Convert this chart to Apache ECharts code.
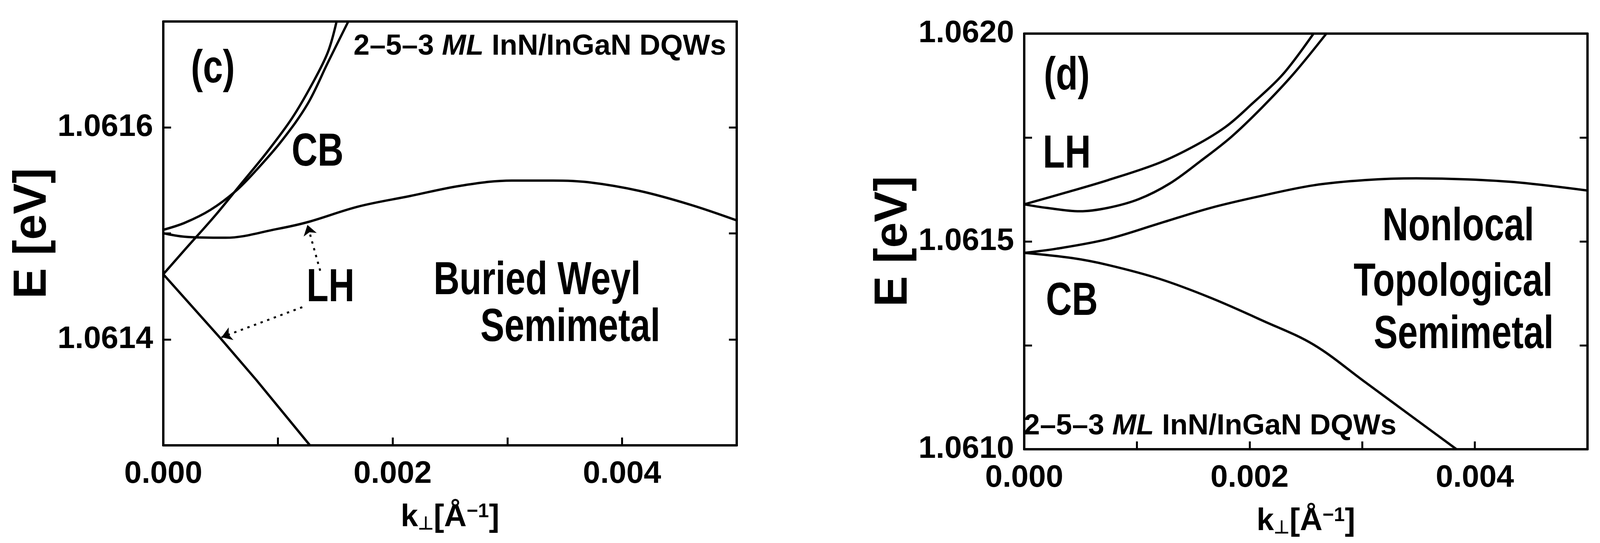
<!DOCTYPE html>
<html>
<head>
<meta charset="utf-8">
<script src="https://cdn.jsdelivr.net/npm/echarts@6/dist/echarts.min.js"></script>
<style>
  html, body { margin: 0; padding: 0; background: #fff; }
  #main { width: 4106px; height: 1390px; }
</style>
</head>
<body>
<div id="main"></div>
<script>
// panel (c): buried Weyl semimetal
const cB1 = [[0, 1.0614615], [0.000187, 1.0614845], [0.000455, 1.0615172], [0.000677, 1.0615466], [0.0009, 1.0615761], [0.001123, 1.0616088], [0.001301, 1.0616416], [0.001435, 1.061671], [0.001511, 1.0617]]
const cB2 = [[0, 1.0615034], [0.000187, 1.06151], [0.00041, 1.0615221], [0.000633, 1.0615401], [0.000811, 1.0615597], [0.001034, 1.0615876], [0.001257, 1.0616219], [0.001435, 1.0616612], [0.001613, 1.0617]]
const cLH = [[0, 1.0615002], [0.000187, 1.0614969], [0.000544, 1.0614959], [0.000989, 1.0615041], [0.001257, 1.0615106], [0.001702, 1.0615254], [0.002148, 1.0615352], [0.002594, 1.061545], [0.003039, 1.0615499], [0.003396, 1.0615499], [0.003708, 1.0615483], [0.004153, 1.0615401], [0.004599, 1.061527], [0.005, 1.0615123]]
const cLow = [[0, 1.0614615], [0.000499, 1.061401], [0.000811, 1.0613617], [0.001279, 1.0613]]
const cArrows = [
  [[0.001212, 1.0614304], [0.000508, 1.061402]],
  [[0.001368, 1.0614648], [0.001257, 1.061508]],
]

// panel (d): nonlocal topological semimetal
const dLH1 = [[0, 1.0615892], [0.000379, 1.0616183], [0.000744, 1.0616475], [0.0012, 1.0616892], [0.001519, 1.0617308], [0.001793, 1.0617767], [0.002021, 1.0618308], [0.002295, 1.0619017], [0.002568, 1.062]]
const dLH2 = [[0, 1.0615892], [0.000196, 1.0615808], [0.000493, 1.0615725], [0.000744, 1.0615808], [0.001017, 1.0616017], [0.001291, 1.0616392], [0.001565, 1.0616933], [0.001839, 1.0617517], [0.002112, 1.0618225], [0.002386, 1.0619017], [0.002682, 1.062]]
const dCB1 = [[0, 1.0614725], [0.000287, 1.0614825], [0.000744, 1.0615058], [0.0012, 1.0615433], [0.001656, 1.0615808], [0.002112, 1.06161], [0.002568, 1.061635], [0.003025, 1.0616475], [0.003481, 1.0616517], [0.003937, 1.0616492], [0.004393, 1.0616417], [0.005, 1.0616225]]
const dCB2 = [[0, 1.0614725], [0.000424, 1.06146], [0.000744, 1.0614433], [0.0012, 1.06141], [0.001656, 1.0613642], [0.002112, 1.06131], [0.002568, 1.0612517], [0.003025, 1.0611617], [0.003481, 1.0610708], [0.003837, 1.061]]

const X_TICKS = ['0.000', '0.002', '0.004']
const C_Y_TICKS = ['1.0614', '1.0616']
const D_Y_TICKS = ['1.0610', '1.0615', '1.0620']

const FONT = '"Liberation Sans", Arial, sans-serif'

const chart = echarts.init(document.getElementById('main'))

function line(data, xi, yi, extra) {
  return Object.assign({
    type: 'line', xAxisIndex: xi, yAxisIndex: yi, data, symbol: 'none', smooth: 0.35,
    lineStyle: { color: '#000', width: 6 }, silent: true, animation: false,
  }, extra || {})
}

const axisLine = { show: true, onZero: false, lineStyle: { color: '#000', width: 6 } }
const tick = { show: true, inside: true, length: 20, lineStyle: { width: 5, color: '#000' } }

function xAxes(gi) {
  const base = {
    type: 'value', gridIndex: gi, min: 0, max: 0.005, interval: 0.001,
    axisLine, splitLine: { show: false },
  }
  return [
    Object.assign({}, base, {
      position: 'bottom',
      axisTick: tick,
      axisLabel: {
        margin: 34, fontSize: 80, fontWeight: 'bold', color: '#000', fontFamily: FONT,
        formatter: v => X_TICKS.find(t => Math.abs(parseFloat(t) - v) < 1e-7) || '',
      },
      name: '{k|k}{s|⊥}{k|[Å}{u|−1}{k|]}', nameLocation: 'middle', nameGap: 145,
      nameTextStyle: {
        rich: {
          k: { fontSize: 80, fontWeight: 'bold', fontFamily: FONT, color: '#000' },
          s: { fontSize: 46, fontWeight: 'bold', fontFamily: FONT, color: '#000', verticalAlign: 'bottom', padding: [30, 0, 0, 0] },
          u: { fontSize: 50, fontWeight: 'bold', fontFamily: FONT, color: '#000', verticalAlign: 'top', padding: [0, 0, 30, 0] },
        },
      },
    }),
    Object.assign({}, base, { position: 'top', axisTick: { show: false }, axisLabel: { show: false } }),
  ]
}

function yAxes(gi, min, max, interval, labels, nameGap) {
  const base = {
    type: 'value', gridIndex: gi, min, max, interval,
    axisLine, splitLine: { show: false }, axisTick: tick,
  }
  return [
    Object.assign({}, base, {
      position: 'left',
      axisLabel: {
        margin: 26, fontSize: 80, fontWeight: 'bold', color: '#000', fontFamily: FONT,
        formatter: v => labels.find(t => Math.abs(parseFloat(t) - v) < 1e-8) || '',
      },
      name: 'E [eV]', nameLocation: 'middle', nameGap, nameRotate: 90,
      nameTextStyle: { fontSize: 118, fontWeight: 'bold', color: '#000', fontFamily: FONT },
    }),
    Object.assign({}, base, { position: 'right', axisLabel: { show: false } }),
  ]
}

function txt(x, y, text, size) {
  return {
    type: 'text', x, y, scaleX: 0.78, silent: true,
    style: { text, fontSize: size, fontWeight: 'bold', fontFamily: FONT, fill: '#000', align: 'center', verticalAlign: 'middle' },
  }
}

function dqw(x, y) {
  return {
    type: 'text', x, y, silent: true,
    style: {
      text: '{b|2–5–3 }{i|ML}{b| InN/InGaN DQWs}', align: 'center', verticalAlign: 'middle',
      rich: {
        b: { fontSize: 74, fontWeight: 'bold', fontFamily: FONT, fill: '#000' },
        i: { fontSize: 74, fontWeight: 'bold', fontStyle: 'italic', fontFamily: FONT, fill: '#000' },
      },
    },
  }
}

const arrowSeries = cArrows.map(a => line([], 0, 0, {
  markLine: {
    silent: true, symbol: ['none', 'arrow'], symbolSize: 26, animation: false,
    label: { show: false },
    lineStyle: { color: '#000', type: [6, 12], width: 5 },
    data: [[{ coord: a[0] }, { coord: a[1] }]],
  },
}))

chart.setOption({
  backgroundColor: '#fff',
  animation: false,
  grid: [
    { left: 418, top: 55, width: 1468, height: 1085 },
    { left: 2622, top: 86, width: 1442, height: 1064 },
  ],
  xAxis: [...xAxes(0), ...xAxes(1)],
  yAxis: [
    ...yAxes(0, 1.0613, 1.0617, 0.0001, C_Y_TICKS, 270),
    ...yAxes(1, 1.061, 1.062, 0.00025, D_Y_TICKS, 270),
  ],
  series: [
    line(cB1, 0, 0), line(cB2, 0, 0), line(cLH, 0, 0), line(cLow, 0, 0, { smooth: false }),
    ...arrowSeries,
    line(dLH1, 2, 2), line(dLH2, 2, 2), line(dCB1, 2, 2), line(dCB2, 2, 2),
  ],
  graphic: [
    txt(545, 178, '(c)', 118),
    dqw(1382, 120),
    txt(813, 391, 'CB', 118),
    txt(846, 738, 'LH', 118),
    txt(1375, 720, 'Buried Weyl', 118),
    txt(1460, 840, 'Semimetal', 118),
    txt(2731, 196, '(d)', 118),
    txt(2731, 396, 'LH', 118),
    txt(2744, 773, 'CB', 118),
    txt(3733, 582, 'Nonlocal', 118),
    txt(3720, 724, 'Topological', 118),
    txt(3747, 858, 'Semimetal', 118),
    dqw(3098, 1092),
  ],
})
</script>
</body>
</html>
